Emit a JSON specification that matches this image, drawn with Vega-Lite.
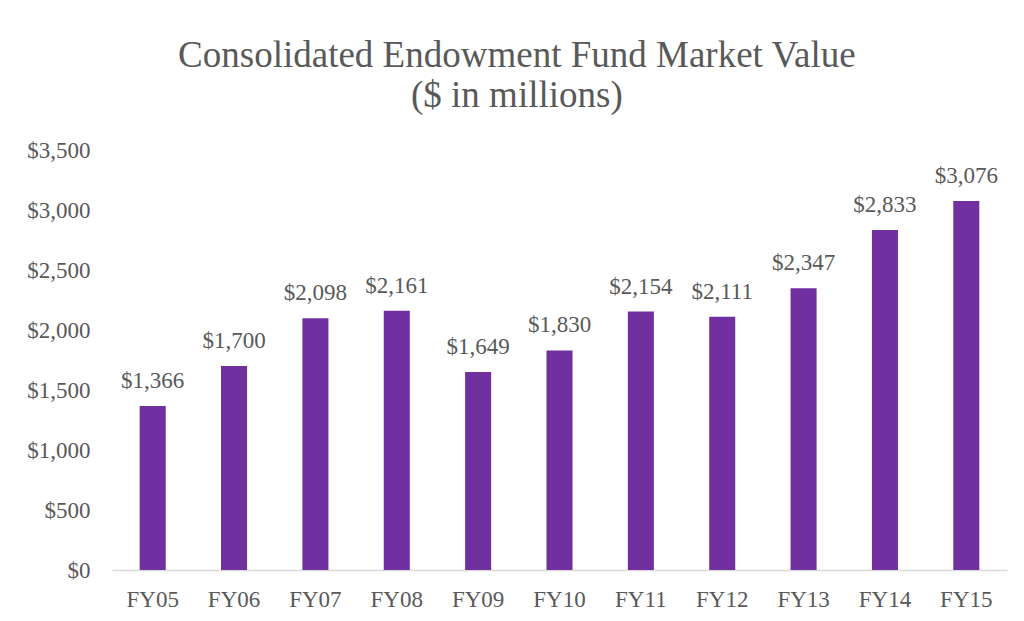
{
  "$schema": "https://vega.github.io/schema/vega-lite/v6.json",
  "autosize": "none",
  "width": 895,
  "height": 420,
  "padding": {"left": 112, "top": 150, "right": 16, "bottom": 51},
  "background": "white",
  "title": {
    "text": ["Consolidated Endowment Fund Market Value", "($ in millions)"],
    "font": "Liberation Serif",
    "fontSize": 37,
    "fontWeight": "normal",
    "color": "#595959",
    "lineHeight": 40,
    "anchor": "middle",
    "frame": "bounds",
    "offset": 24
  },
  "data": {
    "values": [
      {"year": "FY05", "value": 1366},
      {"year": "FY06", "value": 1700},
      {"year": "FY07", "value": 2098},
      {"year": "FY08", "value": 2161},
      {"year": "FY09", "value": 1649},
      {"year": "FY10", "value": 1830},
      {"year": "FY11", "value": 2154},
      {"year": "FY12", "value": 2111},
      {"year": "FY13", "value": 2347},
      {"year": "FY14", "value": 2833},
      {"year": "FY15", "value": 3076}
    ]
  },
  "encoding": {
    "x": {
      "field": "year",
      "type": "nominal",
      "sort": null,
      "scale": {"paddingInner": 0.68, "paddingOuter": 0.34},
      "axis": {
        "title": null,
        "labelAngle": 0,
        "labelFont": "Liberation Serif",
        "labelFontSize": 23,
        "labelColor": "#595959",
        "labelPadding": 18,
        "ticks": false,
        "domainColor": "#D9D9D9",
        "domainWidth": 1.5,
        "grid": false
      }
    },
    "y": {
      "field": "value",
      "type": "quantitative",
      "scale": {"domain": [0, 3500], "nice": false},
      "axis": {
        "title": null,
        "values": [0, 500, 1000, 1500, 2000, 2500, 3000, 3500],
        "format": "$,.0f",
        "labelFont": "Liberation Serif",
        "labelFontSize": 23,
        "labelColor": "#595959",
        "labelPadding": 22,
        "ticks": false,
        "domain": false,
        "grid": false
      }
    }
  },
  "layer": [
    {"mark": {"type": "bar", "color": "#7030A0"}},
    {
      "mark": {
        "type": "text",
        "font": "Liberation Serif",
        "fontSize": 23,
        "color": "#595959",
        "baseline": "alphabetic",
        "dy": -18
      },
      "encoding": {
        "text": {"field": "value", "type": "quantitative", "format": "$,.0f"}
      }
    }
  ],
  "config": {"view": {"stroke": null}}
}
